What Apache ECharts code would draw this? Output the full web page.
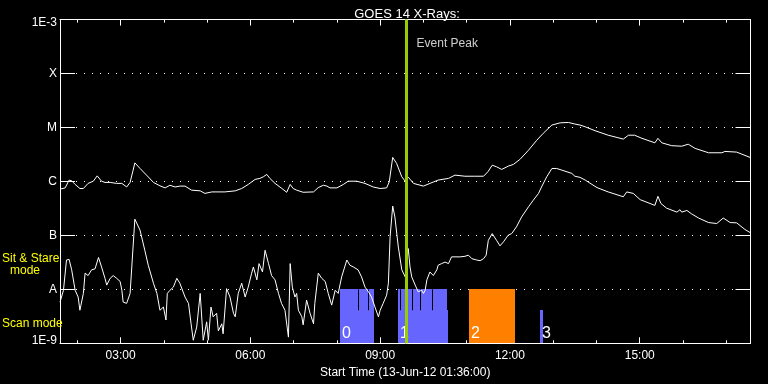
<!DOCTYPE html>
<html><head><meta charset="utf-8">
<script src="https://cdn.jsdelivr.net/npm/echarts@6/dist/echarts.min.js"></script>
<style>html,body{margin:0;padding:0;background:#000;}#c{width:768px;height:384px;}</style>
</head><body><div id="c"></div>
<script>
// GOES 14 long channel (1-8 A), [hours since 00:00 on 13-Jun-12, W/m^2]
const longChannel = [[1.60,7.2e-7],[1.72,7.6e-7],[1.81,1.06e-6],[1.87,1.03e-6],[1.95,8.8e-7],[2.06,7.4e-7],[2.14,7.4e-7],[2.25,9.2e-7],[2.37,1.01e-6],[2.46,1.27e-6],[2.56,1.01e-6],[2.64,9.6e-7],[2.76,9.6e-7],[2.91,9.2e-7],[3.03,9.2e-7],[3.14,7.9e-7],[3.22,9.6e-7],[3.29,1.62e-6],[3.33,2.21e-6],[3.45,1.74e-6],[3.60,1.31e-6],[3.76,9.6e-7],[3.91,8.3e-7],[4.03,7.6e-7],[4.14,8.5e-7],[4.26,7.9e-7],[4.37,8.2e-7],[4.49,8.2e-7],[4.64,6.9e-7],[4.84,6.7e-7],[4.95,6.0e-7],[5.11,6.4e-7],[5.41,6.4e-7],[5.65,6.7e-7],[5.80,7.4e-7],[5.95,8.8e-7],[6.11,1.09e-6],[6.22,1.14e-6],[6.30,1.22e-6],[6.38,1.35e-6],[6.45,1.14e-6],[6.57,9.2e-7],[6.73,7.4e-7],[6.84,6.3e-7],[6.92,8.8e-7],[6.99,7.4e-7],[7.07,6.9e-7],[7.22,6.3e-7],[7.46,6.4e-7],[7.57,7.7e-7],[7.69,8.5e-7],[7.77,8.2e-7],[7.84,7.6e-7],[8.00,7.6e-7],[8.15,8.8e-7],[8.26,1.01e-6],[8.46,1.01e-6],[8.65,9.2e-7],[8.84,7.9e-7],[9.00,7.4e-7],[9.15,7.6e-7],[9.21,9.8e-7],[9.29,2.79e-6],[9.38,2.16e-6],[9.50,1.22e-6],[9.58,1.01e-6],[9.65,1.2e-6],[9.69,1.10e-6],[9.77,9.2e-7],[10.00,8.2e-7],[10.15,9.2e-7],[10.34,1.06e-6],[10.58,1.14e-6],[10.73,1.31e-6],[10.96,1.25e-6],[11.19,1.25e-6],[11.39,1.25e-6],[11.49,1.51e-6],[11.59,2.0e-6],[11.69,1.87e-6],[11.81,1.67e-6],[11.96,1.92e-6],[12.08,2.07e-6],[12.23,2.56e-6],[12.43,3.8e-6],[12.62,5.8e-6],[12.77,7.8e-6],[12.97,1.11e-5],[13.16,1.22e-5],[13.35,1.24e-5],[13.50,1.16e-5],[13.62,1.11e-5],[13.74,1.03e-5],[13.97,8.7e-6],[14.27,7.2e-6],[14.62,6.1e-6],[14.74,7.2e-6],[14.88,7.2e-6],[15.05,6.3e-6],[15.35,5.2e-6],[15.42,6.3e-6],[15.51,5.2e-6],[15.74,4.6e-6],[15.97,4.5e-6],[16.12,4.9e-6],[16.28,4.1e-6],[16.59,3.4e-6],[16.90,3.4e-6],[16.97,3.6e-6],[17.24,3.5e-6],[17.55,2.79e-6]];

// GOES 14 short channel (0.5-4 A)
const shortChannel = [[1.60,5.8e-9],[1.68,9.6e-9],[1.75,3.5e-8],[1.81,3.6e-8],[1.87,2.3e-8],[1.95,9.6e-9],[2.02,7.2e-9],[2.06,4.1e-9],[2.14,8.4e-9],[2.18,2.0e-8],[2.25,1.8e-8],[2.33,2.3e-8],[2.41,2.4e-8],[2.49,3.9e-8],[2.56,2.6e-8],[2.64,1.6e-8],[2.68,1.2e-8],[2.76,1.6e-8],[2.83,1.8e-8],[2.91,1.6e-8],[2.99,1.4e-8],[3.03,9.6e-9],[3.06,5.8e-9],[3.14,5.5e-9],[3.22,8.4e-9],[3.33,2.0e-7],[3.45,1.25e-7],[3.56,5.3e-8],[3.64,2.8e-8],[3.76,1.3e-8],[3.84,8.4e-9],[3.91,4.1e-9],[3.99,4.7e-9],[4.05,2.7e-9],[4.08,8.4e-9],[4.14,9.6e-9],[4.22,1.1e-8],[4.30,1.6e-8],[4.37,1.3e-8],[4.41,1.2e-8],[4.49,7.2e-9],[4.57,5.5e-9],[4.63,2.3e-9],[4.68,1.14e-9],[4.76,2.0e-9],[4.84,8.4e-9],[4.91,1.14e-9],[4.99,2.5e-9],[5.03,1.14e-9],[5.09,4.7e-9],[5.14,3.1e-9],[5.22,3.6e-9],[5.26,1.7e-9],[5.34,2.3e-9],[5.37,1.5e-9],[5.45,1.03e-8],[5.53,7.2e-9],[5.61,3.6e-9],[5.65,3.1e-9],[5.72,8.4e-9],[5.80,1.3e-8],[5.88,7.2e-9],[5.95,1.1e-8],[6.03,2.0e-8],[6.07,2.6e-8],[6.15,1.5e-8],[6.20,3.0e-8],[6.28,2.1e-8],[6.34,5.3e-8],[6.42,3.0e-8],[6.49,1.8e-8],[6.57,1.5e-8],[6.65,8.4e-9],[6.72,5.5e-9],[6.80,4.1e-9],[6.88,1.3e-9],[6.92,3.0e-8],[6.97,1.1e-8],[7.03,7.2e-9],[7.07,8.4e-9],[7.11,4.1e-9],[7.19,3.1e-9],[7.22,2.2e-9],[7.30,6.3e-9],[7.38,3.6e-9],[7.46,2.3e-9],[7.49,5.5e-9],[7.57,2.0e-8],[7.65,1.6e-8],[7.73,1.4e-8],[7.80,8.4e-9],[7.88,5.1e-9],[7.96,9.6e-9],[8.03,8.4e-9],[8.11,1.7e-8],[8.23,3.5e-8],[8.30,2.8e-8],[8.38,2.6e-8],[8.49,2.3e-8],[8.57,1.7e-8],[8.65,1.1e-8],[8.73,9.0e-9],[8.80,7.2e-9],[8.88,4.7e-9],[8.96,3.1e-9],[9.00,4.1e-9],[9.07,5.5e-9],[9.15,7.8e-9],[9.19,1.3e-8],[9.23,9.4e-8],[9.29,3.5e-7],[9.34,2.2e-7],[9.42,6.1e-8],[9.50,2.3e-8],[9.58,1.7e-8],[9.65,5.7e-8],[9.69,2.6e-8],[9.73,1.7e-8],[9.81,1.2e-8],[9.88,9.0e-9],[9.96,9.6e-9],[10.00,8.4e-9],[10.04,9.6e-9],[10.08,1.5e-8],[10.15,2.1e-8],[10.23,1.8e-8],[10.31,2.3e-8],[10.34,2.8e-8],[10.42,3.0e-8],[10.50,3.2e-8],[10.58,3.0e-8],[10.65,4.0e-8],[10.73,4.0e-8],[10.85,4.0e-8],[10.96,4.1e-8],[11.04,4.3e-8],[11.12,3.7e-8],[11.23,3.5e-8],[11.31,3.4e-8],[11.39,3.7e-8],[11.45,4.3e-8],[11.50,8.1e-8],[11.59,1.08e-7],[11.69,8.1e-8],[11.77,6.4e-8],[11.85,7.6e-8],[11.96,1.01e-7],[12.04,1.08e-7],[12.15,1.44e-7],[12.27,2.2e-7],[12.43,3.4e-7],[12.54,4.5e-7],[12.66,6.0e-7],[12.73,7.9e-7],[12.85,1.22e-6],[12.97,1.74e-6],[13.08,1.74e-6],[13.20,1.62e-6],[13.43,1.41e-6],[13.50,1.25e-6],[13.62,1.19e-6],[13.74,1.06e-6],[14.01,7.7e-7],[14.27,6.4e-7],[14.62,5.2e-7],[14.70,6.4e-7],[14.85,6.0e-7],[15.01,4.6e-7],[15.35,3.6e-7],[15.42,5.3e-7],[15.49,3.9e-7],[15.62,3.2e-7],[15.86,2.7e-7],[15.93,3.0e-7],[15.97,2.7e-7],[16.09,2.9e-7],[16.20,2.5e-7],[16.36,2.1e-7],[16.59,1.73e-7],[16.78,1.66e-7],[16.93,2.1e-7],[17.09,1.73e-7],[17.24,1.71e-7],[17.43,1.29e-7],[17.55,1.13e-7]];

// axis text
const classLabels = {'-9':'1E-9','-8':'A','-7':'B','-6':'C','-5':'M','-4':'X','-3':'1E-3'};
const hourTicks = [2,3,4,5,6,7,8,9,10,11,12,13,14,15,16,17];
const hourLabels = [3,6,9,12,15];
const timeStart = 1.6, timeEnd = 17.56;
const eventPeakTime = 9.61;
const eventPeakText = 'Event Peak';

// observing mode intervals: [start, end, top flux, kind]
const modeBars = [[8.07,8.86,1e-8,0],[9.41,10.54,1e-8,0],[10.54,10.56,4.1e-9,0],[11.05,12.12,1e-8,1],[12.70,12.76,4.1e-9,0]];
const modeBarLabels = ['0','1','','2','3'];
const modeGaps = [8.48,8.73,9.47,9.73,9.92,10.19];

const FONT = '"Liberation Sans", Arial, sans-serif';
const barColors = ['#6666ff','#ff8000'];

const chart = echarts.init(document.getElementById('c'), null, {renderer:'canvas'});
const xBase = {type:'value', min:timeStart, max:timeEnd, splitLine:{show:false}};
const yBase = {type:'log', logBase:10, min:1e-9, max:1e-3};
const white = {color:'#fff', width:1};

chart.setOption({
  backgroundColor:'#000',
  animation:false,
  title:{text:'GOES 14 X-Rays:', left:402, top:3, textAlign:'center',
    textStyle:{color:'#fff', fontSize:13, fontWeight:'normal', fontFamily:FONT}},
  grid:{left:60, right:17.5, top:19.6, bottom:40.7, containLabel:false},
  xAxis:[
    Object.assign({}, xBase, {position:'bottom',
      axisLine:{onZero:false, lineStyle:white},
      axisTick:{inside:true, length:6, customValues:hourLabels, lineStyle:white},
      axisLabel:{customValues:hourLabels, color:'#fff', fontSize:12, fontFamily:FONT, margin:6,
        formatter:v=>(v<10?'0':'')+v+':00'},
      name:'Start Time (13-Jun-12 01:36:00)', nameLocation:'middle', nameGap:22,
      nameTextStyle:{color:'#fff', fontSize:12, fontFamily:FONT}}),
    Object.assign({}, xBase, {position:'bottom',
      axisLine:{show:false, onZero:false},
      axisTick:{inside:true, length:3, customValues:hourTicks, lineStyle:white},
      axisLabel:{show:false}}),
    Object.assign({}, xBase, {position:'top',
      axisLine:{onZero:false, lineStyle:white},
      axisTick:{inside:true, length:6, customValues:hourLabels, lineStyle:white},
      axisLabel:{show:false}}),
    Object.assign({}, xBase, {position:'top',
      axisLine:{show:false, onZero:false},
      axisTick:{inside:true, length:3, customValues:hourTicks, lineStyle:white},
      axisLabel:{show:false}})
  ],
  yAxis:[
    Object.assign({}, yBase, {position:'left',
      axisLine:{show:true, onZero:false, lineStyle:white},
      axisTick:{show:true, inside:true, length:15, lineStyle:white},
      axisLabel:{color:'#fff', fontSize:12, fontFamily:FONT, margin:3,
        formatter:v=>{const e=Math.round(Math.log10(v)); const t=classLabels[e];
          if(e===-3) return '{top|'+t+'}'; if(e===-9) return '{bot|'+t+'}'; return t;},
        rich:{top:{color:'#fff', fontSize:12, fontFamily:FONT, padding:[7,0,0,0]},
              bot:{color:'#fff', fontSize:12, fontFamily:FONT, padding:[0,0,6,0]}}},
      splitLine:{show:true, lineStyle:{color:'#fff', width:1, type:[1,7]}}}),
    Object.assign({}, yBase, {position:'right',
      axisLine:{show:true, onZero:false, lineStyle:white},
      axisTick:{show:true, inside:true, length:15, lineStyle:white},
      axisLabel:{show:false}, splitLine:{show:false}})
  ],
  graphic:[
    {type:'text', x:2, y:259, z:100, style:{text:'Sit & Stare', fill:'#ffff00', font:'12px '+FONT, verticalAlign:'middle'}},
    {type:'text', x:25, y:271, z:100, style:{text:'mode', fill:'#ffff00', font:'12px '+FONT, align:'center', verticalAlign:'middle'}},
    {type:'text', x:2, y:324, z:100, style:{text:'Scan mode', fill:'#ffff00', font:'12px '+FONT, verticalAlign:'middle'}}
  ],
  series:[
    {type:'custom', xAxisIndex:0, yAxisIndex:0, z:1, data:modeBars,
      encode:{x:[0,1], y:2},
      renderItem:function(params, api){
        const p0 = api.coord([api.value(0), api.value(2)]);
        const p1 = api.coord([api.value(1), 1e-9]);
        const x0 = Math.round(p0[0]), x1 = Math.max(Math.round(p1[0]), x0+1);
        const children = [{type:'rect', shape:{x:x0, y:Math.round(p0[1]), width:x1-x0, height:Math.round(p1[1])-Math.round(p0[1])},
          style:{fill:barColors[api.value(3)]}}];
        const lbl = modeBarLabels[params.dataIndex];
        if (lbl) children.push({type:'text', x:x0+2, y:p1[1]-10,
          style:{text:lbl, fill:'#fff', font:'16px '+FONT, verticalAlign:'middle'}});
        return {type:'group', children:children};
      }},
    {type:'custom', xAxisIndex:0, yAxisIndex:0, z:2, data:modeGaps.map(t=>[t]),
      encode:{x:0},
      renderItem:function(params, api){
        const a = api.coord([api.value(0), 1e-8]);
        const b = api.coord([api.value(0), 4.1e-9]);
        const x = Math.round(a[0]) + 0.5;
        return {type:'line', shape:{x1:x, y1:a[1], x2:x, y2:b[1]}, style:{stroke:'#000', lineWidth:1}};
      }},
    {type:'line', name:'long', data:longChannel, showSymbol:false, symbol:'none', z:3,
      lineStyle:{color:'#fff', width:1}, itemStyle:{color:'#fff'}},
    {type:'line', name:'short', data:shortChannel, showSymbol:false, symbol:'none', z:3,
      lineStyle:{color:'#fff', width:1}, itemStyle:{color:'#fff'}},
    {type:'scatter', z:10, data:[[eventPeakTime, 3.64e-4]], symbolSize:0,
      label:{show:true, position:'right', distance:10, formatter:eventPeakText, color:'#fff', fontSize:12, fontFamily:FONT},
      markLine:{silent:true, symbol:'none', animation:false, label:{show:false},
        lineStyle:{color:'#99cc00', width:3, type:'solid'}, data:[{xAxis:eventPeakTime}]}}
  ]
});
</script></body></html>
